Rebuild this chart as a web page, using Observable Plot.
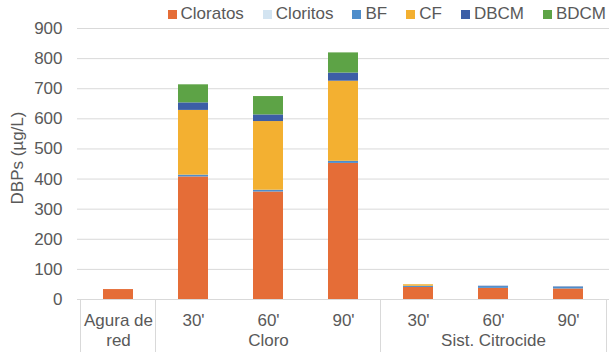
<!DOCTYPE html>
<html><head><meta charset="utf-8">
<script src="https://cdn.jsdelivr.net/npm/d3@7"></script>
<script src="https://cdn.jsdelivr.net/npm/@observablehq/plot@0.6"></script>
<style>
body{margin:0;background:#fff;}
#wrap{position:relative;width:615px;height:352px;font-family:"Liberation Sans",Arial,sans-serif;color:#595959;}
#legend{position:absolute;top:4px;right:9px;display:flex;gap:19px;font-size:17px;line-height:20px;white-space:nowrap;}
#legend .it{display:flex;align-items:center;}
#legend .sw{width:9px;height:9px;margin-right:4px;display:inline-block;}
</style></head><body><div id="wrap"><div id="legend"></div></div>
<script>
const categories = ["AR","C30","C60","C90","S30","S60","S90"];
const tickLabels = ["Agura de\nred","30'","60'","90'","30'","60'","90'"];
const groupKeys = ["C60","S60"];
const groupLabels = ["Cloro","Sist. Citrocide"];
const series = ["Cloratos","Cloritos","BF","CF","DBCM","BDCM"];
const colors = ["#E56D37","#D3E4F1","#4E8DCB","#F3B031","#3C5EA6","#5DA346"];
const cloratos = [33,407,357,452,40,37,35];
const cloritos = [0,0,0,0,0,0,0];
const bf = [0,6,6,7,4,6,6];
const cf = [0,215,228,266,5,0,0];
const dbcm = [0,25,22,27,0,1,1];
const bdcm = [0,60,61,67,0,0,0];
const yTicks = [0,100,200,300,400,500,600,700,800,900];
const yLabel = "DBPs (µg/L)";

const valuesBySeries = [cloratos, cloritos, bf, cf, dbcm, bdcm];
const rows = [];
categories.forEach((c, i) => series.forEach((s, j) => rows.push({cat: c, series: s, value: valuesBySeries[j][i]})));

const grid = "#D9D9D9";
const plot = Plot.plot({
  width: 615, height: 352,
  marginLeft: 77, marginRight: 6, marginTop: 28, marginBottom: 53,
  style: {fontSize: "17px", fontFamily: "'Liberation Sans', Arial, sans-serif", color: "#595959", background: "#fff"},
  x: {domain: categories, paddingInner: 0.605, paddingOuter: 0.3026},
  y: {domain: [0, 900]},
  color: {domain: series, range: colors},
  marks: [
    Plot.gridY(yTicks.slice(1), {stroke: grid, strokeOpacity: 1}),
    Plot.axisY(yTicks, {tickSize: 0, tickPadding: 15, label: null}),
    Plot.ruleY([0], {stroke: grid, strokeOpacity: 1}),
    Plot.axisX(["AR","C30","S30"], {tickSize: 53, dx: -38, stroke: grid, fill: "none", label: null}),
    Plot.axisX(["S90"], {tickSize: 53, dx: 38, stroke: grid, fill: "none", label: null}),
    Plot.axisX(categories, {tickSize: 0, tickPadding: 13, lineHeight: 1.15, tickFormat: d => tickLabels[categories.indexOf(d)], label: null}),
    Plot.axisX(groupKeys, {tickSize: 0, tickPadding: 34, tickFormat: d => groupLabels[groupKeys.indexOf(d)], label: null}),
    Plot.barY(rows, {x: "cat", y: "value", fill: "series"}),
    Plot.text([yLabel], {frameAnchor: "left", rotate: -90, dx: -60, dy: -6, textAnchor: "middle", fill: "#595959"})
  ]
});
document.getElementById("wrap").appendChild(plot);

const legend = d3.select("#legend");
series.forEach((s, i) => {
  const it = legend.append("div").attr("class", "it");
  it.append("span").attr("class", "sw").style("background", colors[i]);
  it.append("span").text(s);
});
</script></body></html>
